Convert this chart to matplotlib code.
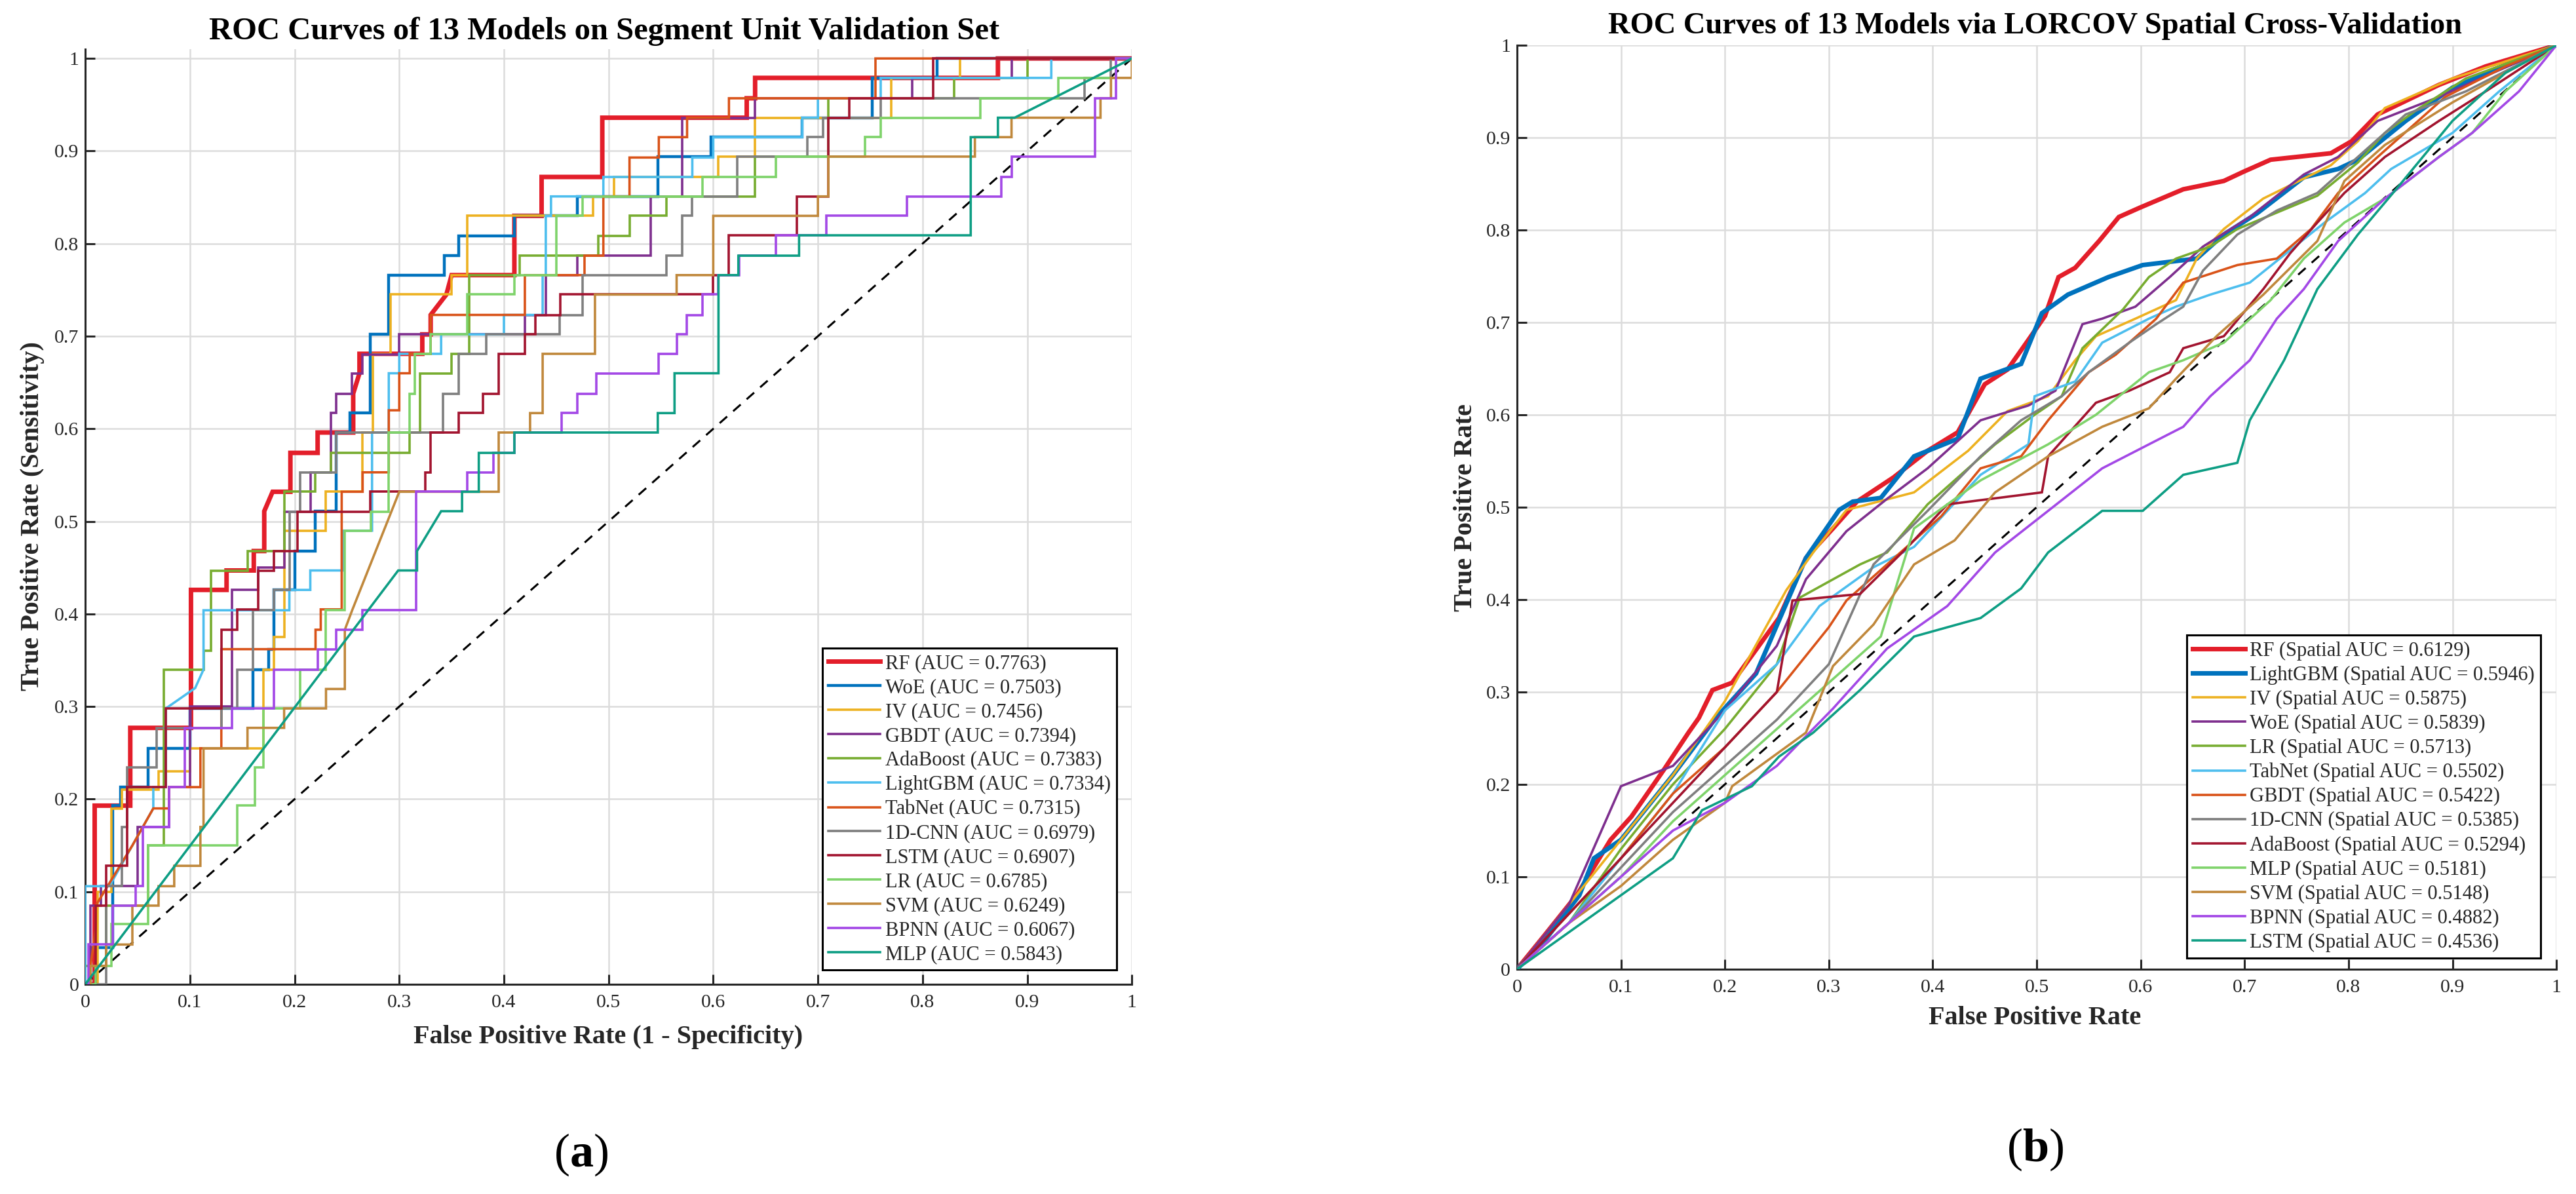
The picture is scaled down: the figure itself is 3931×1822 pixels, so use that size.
import matplotlib
matplotlib.use("Agg")
import matplotlib.pyplot as plt
from matplotlib.ticker import FixedLocator, FixedFormatter

plt.rcParams['font.family'] = ['Liberation Serif', 'DejaVu Serif']
plt.rcParams['mathtext.fontset'] = 'custom'
plt.rcParams['mathtext.rm'] = 'Liberation Serif'
plt.rcParams['mathtext.bf'] = 'Liberation Serif:bold'

# ---------------- data: panel (a) ----------------
A_MODELS = ['RF', 'WoE', 'IV', 'GBDT', 'AdaBoost', 'LightGBM', 'TabNet',
            '1D-CNN', 'LSTM', 'LR', 'SVM', 'BPNN', 'MLP']
A_AUC = [0.7763, 0.7503, 0.7456, 0.7394, 0.7383, 0.7334, 0.7315,
         0.6979, 0.6907, 0.6785, 0.6249, 0.6067, 0.5843]

A_RF = [(0,0),(0.009,0),(0.009,0.193),(0.043,0.193),(0.043,0.277),(0.101,0.277),(0.101,0.426),
        (0.135,0.426),(0.135,0.447),(0.161,0.447),(0.161,0.468),(0.171,0.468),(0.171,0.511),
        (0.179,0.532),(0.196,0.532),(0.196,0.574),(0.222,0.574),(0.222,0.596),(0.256,0.596),
        (0.256,0.638),(0.262,0.660),(0.262,0.681),(0.322,0.681),(0.322,0.702),(0.33,0.702),
        (0.33,0.723),(0.345,0.745),(0.35,0.766),(0.41,0.766),(0.41,0.830),(0.436,0.830),
        (0.436,0.872),(0.494,0.872),(0.494,0.936),(0.632,0.936),(0.632,0.957),(0.64,0.957),
        (0.64,0.979),(0.872,0.979),(0.872,1.0),(1,1)]
A_WOE = [(0,0),(0.005,0),(0.005,0.04),(0.026,0.04),(0.026,0.193),(0.034,0.193),(0.034,0.213),
         (0.06,0.213),(0.06,0.255),(0.1,0.255),(0.1,0.298),(0.16,0.298),(0.16,0.34),(0.175,0.34),
         (0.175,0.362),(0.18,0.362),(0.18,0.426),(0.2,0.426),(0.2,0.468),(0.22,0.468),(0.22,0.511),
         (0.24,0.511),(0.24,0.596),(0.253,0.596),(0.253,0.617),(0.272,0.617),(0.272,0.702),
         (0.29,0.702),(0.29,0.766),(0.343,0.766),(0.343,0.787),(0.357,0.787),(0.357,0.808),
         (0.41,0.808),(0.41,0.83),(0.47,0.83),(0.47,0.851),(0.547,0.851),(0.547,0.894),
         (0.598,0.894),(0.598,0.915),(0.685,0.915),(0.685,0.936),(0.752,0.936),(0.752,0.979),
         (0.814,0.979),(0.814,1.0),(1,1)]
A_IV = [(0,0),(0.012,0),(0.012,0.1),(0.025,0.1),(0.025,0.19),(0.035,0.19),(0.035,0.21),
        (0.07,0.21),(0.07,0.23),(0.1,0.23),(0.1,0.255),(0.17,0.255),(0.17,0.34),(0.18,0.34),
        (0.18,0.375),(0.19,0.375),(0.19,0.49),(0.23,0.49),(0.23,0.532),(0.265,0.532),
        (0.265,0.596),(0.275,0.596),(0.275,0.681),(0.292,0.681),(0.292,0.745),(0.35,0.745),
        (0.35,0.766),(0.365,0.766),(0.365,0.83),(0.485,0.83),(0.485,0.851),(0.505,0.851),
        (0.505,0.872),(0.605,0.872),(0.605,0.894),(0.64,0.894),(0.64,0.936),(0.77,0.936),
        (0.77,0.979),(0.836,0.979),(0.836,1.0),(1,1)]
A_GBDT = [(0,0),(0.005,0),(0.005,0.085),(0.015,0.085),(0.015,0.106),(0.05,0.106),(0.05,0.17),
          (0.08,0.17),(0.08,0.213),(0.1,0.213),(0.1,0.3),(0.14,0.3),(0.14,0.426),(0.165,0.426),
          (0.165,0.45),(0.19,0.45),(0.19,0.51),(0.215,0.51),(0.215,0.553),(0.235,0.553),
          (0.235,0.617),(0.24,0.617),(0.24,0.638),(0.255,0.638),(0.255,0.66),(0.265,0.66),
          (0.265,0.68),(0.3,0.68),(0.3,0.702),(0.42,0.702),(0.42,0.723),(0.44,0.723),
          (0.44,0.766),(0.47,0.766),(0.47,0.787),(0.54,0.787),(0.54,0.851),(0.57,0.851),
          (0.57,0.936),(0.64,0.936),(0.64,0.957),(0.79,0.957),(0.79,0.979),(0.885,0.979),
          (0.885,1.0),(1,1)]
A_ADA = [(0,0),(0,0.02),(0.02,0.02),(0.02,0.085),(0.06,0.085),(0.06,0.15),(0.075,0.15),
         (0.075,0.34),(0.113,0.34),(0.113,0.36),(0.12,0.36),(0.12,0.447),(0.155,0.447),
         (0.155,0.468),(0.19,0.468),(0.19,0.532),(0.22,0.532),(0.22,0.553),(0.235,0.553),
         (0.235,0.574),(0.31,0.574),(0.31,0.596),(0.32,0.596),(0.32,0.66),(0.35,0.66),
         (0.35,0.681),(0.367,0.681),(0.367,0.766),(0.415,0.766),(0.415,0.787),(0.49,0.787),
         (0.49,0.808),(0.52,0.808),(0.52,0.83),(0.555,0.83),(0.555,0.851),(0.64,0.851),
         (0.64,0.894),(0.71,0.894),(0.71,0.957),(0.83,0.957),(0.83,0.979),(0.9,0.979),
         (0.9,1.0),(1,1)]
A_LGBM = [(0,0),(0,0.106),(0.023,0.106),(0.065,0.19),(0.065,0.213),(0.077,0.213),(0.077,0.298),
          (0.105,0.32),(0.113,0.34),(0.113,0.404),(0.195,0.404),(0.195,0.426),(0.215,0.426),
          (0.215,0.447),(0.247,0.447),(0.247,0.49),(0.274,0.49),(0.274,0.596),(0.29,0.596),
          (0.29,0.66),(0.3,0.66),(0.3,0.681),(0.34,0.681),(0.34,0.702),(0.4,0.702),(0.4,0.723),
          (0.437,0.723),(0.437,0.766),(0.44,0.766),(0.44,0.83),(0.445,0.83),(0.445,0.851),
          (0.495,0.851),(0.495,0.872),(0.58,0.872),(0.58,0.893),(0.6,0.893),(0.6,0.915),
          (0.685,0.915),(0.685,0.936),(0.7,0.936),(0.7,0.957),(0.76,0.957),(0.76,0.979),
          (0.923,0.979),(0.923,1.0),(1,1)]
A_TAB = [(0,0),(0.005,0),(0.005,0.02),(0.01,0.06),(0.01,0.085),(0.045,0.15),(0.065,0.19),
         (0.08,0.19),(0.08,0.213),(0.11,0.213),(0.11,0.255),(0.13,0.255),(0.13,0.362),
         (0.22,0.362),(0.22,0.383),(0.225,0.383),(0.225,0.405),(0.245,0.405),(0.245,0.532),
         (0.265,0.532),(0.265,0.553),(0.29,0.553),(0.29,0.62),(0.3,0.62),(0.3,0.66),(0.31,0.66),
         (0.31,0.681),(0.33,0.681),(0.33,0.723),(0.42,0.723),(0.42,0.766),(0.477,0.766),
         (0.477,0.787),(0.495,0.787),(0.495,0.851),(0.52,0.851),(0.52,0.893),(0.548,0.893),
         (0.548,0.915),(0.575,0.915),(0.575,0.936),(0.615,0.936),(0.615,0.957),(0.755,0.957),
         (0.755,1.0),(1,1)]
A_CNN = [(0,0),(0.02,0),(0.02,0.106),(0.035,0.106),(0.035,0.17),(0.04,0.17),(0.04,0.234),
         (0.068,0.234),(0.068,0.277),(0.13,0.277),(0.13,0.298),(0.145,0.298),(0.145,0.34),
         (0.16,0.34),(0.16,0.404),(0.18,0.404),(0.18,0.426),(0.195,0.426),(0.195,0.51),
         (0.205,0.51),(0.205,0.553),(0.24,0.553),(0.24,0.596),(0.342,0.596),(0.342,0.638),
         (0.357,0.638),(0.357,0.681),(0.383,0.681),(0.383,0.702),(0.453,0.702),(0.453,0.723),
         (0.475,0.723),(0.475,0.766),(0.555,0.766),(0.555,0.787),(0.57,0.787),(0.57,0.83),
         (0.58,0.83),(0.58,0.851),(0.623,0.851),(0.623,0.894),(0.69,0.894),(0.69,0.915),
         (0.705,0.915),(0.705,0.936),(0.76,0.936),(0.76,0.957),(0.955,0.957),(0.955,0.979),
         (0.98,0.979),(0.98,1.0),(1,1)]
A_LSTM = [(0,0),(0.01,0),(0.01,0.085),(0.02,0.085),(0.02,0.128),(0.04,0.128),(0.04,0.213),
          (0.077,0.213),(0.077,0.298),(0.13,0.298),(0.13,0.383),(0.145,0.383),(0.145,0.405),
          (0.165,0.405),(0.165,0.447),(0.18,0.447),(0.18,0.468),(0.203,0.468),(0.203,0.51),
          (0.272,0.51),(0.272,0.532),(0.325,0.532),(0.325,0.553),(0.33,0.553),(0.33,0.596),
          (0.357,0.596),(0.357,0.617),(0.38,0.617),(0.38,0.638),(0.395,0.638),(0.395,0.681),
          (0.42,0.681),(0.42,0.702),(0.43,0.702),(0.43,0.723),(0.454,0.723),(0.454,0.745),
          (0.6,0.745),(0.6,0.766),(0.615,0.766),(0.615,0.809),(0.68,0.809),(0.68,0.851),
          (0.71,0.851),(0.71,0.936),(0.73,0.936),(0.73,0.957),(0.81,0.957),(0.81,1.0),(1,1)]
A_LR = [(0,0),(0.01,0),(0.01,0.02),(0.025,0.02),(0.025,0.065),(0.06,0.065),(0.06,0.15),
        (0.145,0.15),(0.145,0.193),(0.162,0.193),(0.162,0.234),(0.17,0.234),(0.17,0.298),
        (0.205,0.298),(0.205,0.34),(0.23,0.34),(0.23,0.404),(0.248,0.404),(0.248,0.49),
        (0.273,0.49),(0.273,0.51),(0.29,0.51),(0.29,0.596),(0.31,0.596),(0.31,0.638),
        (0.315,0.638),(0.315,0.681),(0.33,0.681),(0.33,0.702),(0.365,0.702),(0.365,0.745),
        (0.41,0.745),(0.41,0.766),(0.45,0.766),(0.45,0.83),(0.475,0.83),(0.475,0.851),
        (0.59,0.851),(0.59,0.872),(0.66,0.872),(0.66,0.894),(0.745,0.894),(0.745,0.915),
        (0.76,0.915),(0.76,0.936),(0.855,0.936),(0.855,0.957),(0.93,0.957),(0.93,0.979),
        (0.985,0.979),(0.985,1.0),(1,1)]
A_SVM = [(0,0),(0.005,0),(0.005,0.02),(0.02,0.02),(0.02,0.043),(0.045,0.043),(0.045,0.085),
         (0.07,0.085),(0.07,0.106),(0.085,0.106),(0.085,0.128),(0.11,0.128),(0.11,0.17),
         (0.113,0.17),(0.113,0.255),(0.155,0.255),(0.155,0.277),(0.19,0.277),(0.19,0.298),
         (0.23,0.298),(0.23,0.319),(0.248,0.319),(0.248,0.383),(0.255,0.404),(0.3,0.532),
         (0.395,0.532),(0.395,0.596),(0.425,0.596),(0.425,0.617),(0.437,0.617),(0.437,0.681),
         (0.487,0.681),(0.487,0.745),(0.565,0.745),(0.565,0.766),(0.6,0.766),(0.6,0.83),
         (0.7,0.83),(0.7,0.851),(0.71,0.851),(0.71,0.894),(0.85,0.894),(0.85,0.915),
         (0.885,0.915),(0.885,0.936),(0.97,0.936),(0.97,0.957),(0.98,0.957),(0.98,0.979),
         (1.0,0.979),(1.0,1.0)]
A_BPNN = [(0,0),(0.003,0),(0.003,0.043),(0.026,0.043),(0.026,0.085),(0.048,0.085),
          (0.048,0.106),(0.055,0.106),(0.055,0.17),(0.08,0.17),(0.08,0.213),(0.095,0.213),
          (0.095,0.277),(0.14,0.277),(0.14,0.298),(0.18,0.298),(0.18,0.34),(0.222,0.34),
          (0.222,0.362),(0.24,0.362),(0.24,0.383),(0.265,0.383),(0.265,0.404),(0.316,0.404),
          (0.316,0.532),(0.365,0.532),(0.365,0.553),(0.39,0.553),(0.39,0.574),(0.41,0.574),
          (0.41,0.596),(0.455,0.596),(0.455,0.617),(0.47,0.617),(0.47,0.638),(0.488,0.638),
          (0.488,0.66),(0.548,0.66),(0.548,0.681),(0.565,0.681),(0.565,0.702),(0.575,0.702),
          (0.575,0.723),(0.59,0.723),(0.59,0.745),(0.605,0.745),(0.605,0.766),(0.625,0.766),
          (0.625,0.787),(0.66,0.787),(0.66,0.809),(0.708,0.809),(0.708,0.83),(0.785,0.83),
          (0.785,0.851),(0.875,0.851),(0.875,0.872),(0.885,0.872),(0.885,0.894),(0.965,0.894),
          (0.965,0.957),(0.985,0.957),(0.985,1.0),(1,1)]
A_MLP = [(0,0),(0.299,0.447),(0.317,0.447),(0.317,0.468),(0.34,0.511),(0.36,0.511),
         (0.36,0.532),(0.376,0.532),(0.376,0.574),(0.41,0.574),(0.41,0.596),(0.547,0.596),
         (0.547,0.617),(0.563,0.617),(0.563,0.66),(0.605,0.66),(0.605,0.766),(0.624,0.766),
         (0.624,0.787),(0.682,0.787),(0.682,0.809),(0.846,0.809),(0.846,0.915),(0.872,0.915),
         (0.872,0.936),(0.888,0.936),(1,1)]
A_CURVES = [A_RF, A_WOE, A_IV, A_GBDT, A_ADA, A_LGBM, A_TAB, A_CNN, A_LSTM, A_LR, A_SVM,
            A_BPNN, A_MLP]

# ---------------- data: panel (b) ----------------
B_MODELS = ['RF', 'LightGBM', 'IV', 'WoE', 'LR', 'TabNet', 'GBDT', '1D-CNN', 'AdaBoost',
            'MLP', 'SVM', 'BPNN', 'LSTM']
B_AUC = [0.6129, 0.5946, 0.5875, 0.5839, 0.5713, 0.5502, 0.5422, 0.5385, 0.5294,
         0.5181, 0.5148, 0.4882, 0.4536]

B_RF = [(0,0),(0.026,0.036),(0.058,0.081),(0.09,0.14),(0.11,0.165),(0.142,0.217),(0.165,0.256),
        (0.175,0.272),(0.188,0.302),(0.207,0.31),(0.252,0.38),(0.278,0.445),(0.304,0.477),
        (0.327,0.506),(0.362,0.532),(0.395,0.561),(0.424,0.581),(0.45,0.633),(0.472,0.649),
        (0.492,0.681),(0.508,0.707),(0.521,0.749),(0.537,0.759),(0.56,0.788),(0.579,0.814),
        (0.599,0.824),(0.641,0.844),(0.68,0.853),(0.699,0.863),(0.725,0.876),(0.783,0.883),
        (0.803,0.896),(0.828,0.925),(0.887,0.957),(0.932,0.977),(1,1)]
B_LGBM = [(0,0),(0.026,0.03),(0.06,0.08),(0.074,0.12),(0.1,0.14),(0.15,0.21),(0.19,0.27),
          (0.23,0.32),(0.278,0.445),(0.31,0.497),(0.323,0.506),(0.35,0.51),(0.382,0.555),
          (0.424,0.574),(0.446,0.639),(0.485,0.655),(0.505,0.71),(0.53,0.73),(0.569,0.749),
          (0.602,0.762),(0.654,0.769),(0.68,0.795),(0.712,0.818),(0.757,0.857),(0.79,0.866),
          (0.809,0.876),(0.855,0.918),(0.9,0.954),(0.95,0.977),(1,1)]
B_IV = [(0,0),(0.05,0.07),(0.1,0.14),(0.15,0.21),(0.2,0.29),(0.259,0.41),(0.285,0.451),
        (0.317,0.497),(0.382,0.516),(0.434,0.561),(0.472,0.604),(0.511,0.62),(0.537,0.659),
        (0.557,0.685),(0.595,0.704),(0.634,0.724),(0.654,0.769),(0.68,0.801),(0.718,0.834),
        (0.783,0.87),(0.809,0.896),(0.835,0.932),(0.9,0.964),(1,1)]
B_WOE = [(0,0),(0.05,0.07),(0.1,0.198),(0.15,0.22),(0.2,0.28),(0.25,0.35),(0.278,0.422),
         (0.317,0.474),(0.356,0.509),(0.395,0.542),(0.446,0.594),(0.492,0.61),(0.518,0.626),
         (0.544,0.698),(0.563,0.704),(0.595,0.717),(0.628,0.749),(0.66,0.782),(0.705,0.814),
         (0.757,0.86),(0.79,0.879),(0.828,0.918),(0.887,0.944),(0.939,0.97),(1,1)]
B_LR = [(0,0),(0.05,0.05),(0.1,0.13),(0.15,0.2),(0.2,0.26),(0.25,0.33),(0.272,0.402),
        (0.33,0.438),(0.356,0.451),(0.395,0.503),(0.434,0.542),(0.46,0.568),(0.498,0.6),
        (0.524,0.62),(0.544,0.672),(0.583,0.714),(0.608,0.749),(0.634,0.769),(0.667,0.782),
        (0.693,0.801),(0.77,0.837),(0.809,0.873),(0.835,0.905),(0.867,0.931),(0.913,0.964),(1,1)]
B_TAB = [(0,0),(0.05,0.05),(0.1,0.12),(0.15,0.19),(0.2,0.28),(0.25,0.33),(0.291,0.393),
         (0.343,0.435),(0.382,0.457),(0.446,0.535),(0.492,0.568),(0.498,0.62),(0.537,0.636),
         (0.563,0.678),(0.608,0.704),(0.634,0.717),(0.667,0.73),(0.705,0.743),(0.777,0.808),
         (0.816,0.84),(0.841,0.866),(0.9,0.905),(0.945,0.95),(1,1)]
B_GBDT = [(0,0),(0.05,0.06),(0.1,0.12),(0.15,0.19),(0.2,0.24),(0.25,0.3),(0.3,0.37),
          (0.317,0.399),(0.356,0.438),(0.408,0.49),(0.446,0.542),(0.485,0.555),(0.511,0.594),
          (0.55,0.646),(0.576,0.665),(0.615,0.704),(0.641,0.743),(0.693,0.762),(0.731,0.769),
          (0.764,0.801),(0.79,0.84),(0.828,0.879),(0.893,0.944),(0.951,0.977),(1,1)]
B_CNN = [(0,0),(0.05,0.05),(0.1,0.11),(0.15,0.17),(0.2,0.22),(0.25,0.27),(0.3,0.33),
         (0.343,0.438),(0.395,0.496),(0.446,0.555),(0.485,0.594),(0.524,0.62),(0.55,0.646),
         (0.589,0.678),(0.615,0.698),(0.641,0.717),(0.66,0.756),(0.693,0.795),(0.731,0.821),
         (0.77,0.84),(0.809,0.879),(0.855,0.925),(0.913,0.95),(1,1)]
B_ADA = [(0,0),(0.05,0.06),(0.1,0.12),(0.15,0.18),(0.2,0.24),(0.25,0.3),(0.265,0.399),
         (0.33,0.406),(0.376,0.457),(0.414,0.503),(0.505,0.516),(0.511,0.555),(0.557,0.613),
         (0.589,0.626),(0.628,0.646),(0.641,0.672),(0.68,0.685),(0.718,0.736),(0.744,0.775),
         (0.77,0.808),(0.796,0.84),(0.835,0.879),(0.887,0.918),(0.932,0.95),(1,1)]
B_MLP = [(0,0),(0.05,0.05),(0.1,0.1),(0.15,0.16),(0.2,0.21),(0.25,0.26),(0.3,0.31),
         (0.35,0.36),(0.382,0.477),(0.446,0.529),(0.511,0.568),(0.557,0.6),(0.608,0.646),
         (0.641,0.659),(0.68,0.678),(0.725,0.724),(0.757,0.769),(0.796,0.808),(0.835,0.834),
         (0.887,0.879),(0.919,0.905),(0.951,0.95),(1,1)]
B_SVM = [(0,0),(0.05,0.05),(0.1,0.09),(0.15,0.14),(0.2,0.18),(0.207,0.198),(0.278,0.256),
         (0.304,0.328),(0.343,0.373),(0.382,0.438),(0.421,0.464),(0.46,0.516),(0.511,0.555),
         (0.563,0.587),(0.608,0.607),(0.634,0.639),(0.673,0.685),(0.718,0.73),(0.77,0.788),
         (0.796,0.853),(0.835,0.892),(0.9,0.938),(0.951,0.97),(1,1)]
B_BPNN = [(0,0),(0.05,0.05),(0.1,0.1),(0.15,0.15),(0.2,0.18),(0.25,0.22),(0.304,0.282),
          (0.356,0.347),(0.414,0.393),(0.46,0.451),(0.511,0.496),(0.563,0.542),(0.608,0.568),
          (0.641,0.587),(0.667,0.62),(0.705,0.659),(0.731,0.704),(0.757,0.736),(0.79,0.788),
          (0.835,0.834),(0.887,0.879),(0.919,0.905),(0.964,0.95),(1,1)]
B_LSTM = [(0,0),(0.05,0.04),(0.1,0.08),(0.15,0.12),(0.178,0.172),(0.226,0.198),(0.252,0.23),
          (0.285,0.256),(0.33,0.302),(0.382,0.36),(0.446,0.38),(0.485,0.412),(0.511,0.451),
          (0.563,0.496),(0.602,0.496),(0.641,0.535),(0.693,0.548),(0.705,0.594),(0.738,0.659),
          (0.77,0.736),(0.809,0.795),(0.848,0.847),(0.9,0.918),(0.951,0.97),(1,1)]
B_CURVES = [B_RF, B_LGBM, B_IV, B_WOE, B_LR, B_TAB, B_GBDT, B_CNN, B_ADA, B_MLP, B_SVM,
            B_BPNN, B_LSTM]

TICKS = [0, 0.1, 0.2, 0.3, 0.4, 0.5, 0.6, 0.7, 0.8, 0.9, 1]
TICK_LABELS = ['0', '0.1', '0.2', '0.3', '0.4', '0.5', '0.6', '0.7', '0.8', '0.9', '1']

# ---------------- styles ----------------
COLORS = ['#E31E2A', '#0072BD', '#EDB120', '#7E2F8E', '#77AC30', '#4DBEEE', '#D95319',
          '#7F7F7F', '#A2142F', '#7ED36A', '#C0883C', '#A348E6', '#0E9E84']
A_WIDTHS = [5.0, 3.2] + [2.6] * 11
B_WIDTHS = [5.0, 5.0] + [2.6] * 11

fig = plt.figure(figsize=(39.31, 18.22), dpi=100)
ax_a = fig.add_axes([0.0331, 0.1756, 0.4063, 0.7832])
ax_b = fig.add_axes([0.5889, 0.1883, 0.4035, 0.7739])


def style_axes(ax, ytop):
    ax.set_xlim(0, 1)
    ax.set_ylim(0, ytop)
    ax.xaxis.set_major_locator(FixedLocator(TICKS))
    ax.xaxis.set_major_formatter(FixedFormatter(TICK_LABELS))
    ax.yaxis.set_major_locator(FixedLocator(TICKS))
    ax.yaxis.set_major_formatter(FixedFormatter(TICK_LABELS))
    ax.grid(True, color='#DCDCDC', linewidth=1.8, zorder=0)
    ax.set_axisbelow(True)
    for s in ['top', 'right']:
        ax.spines[s].set_visible(False)
    for s in ['left', 'bottom']:
        ax.spines[s].set_color('#262626')
        ax.spines[s].set_linewidth(2.2)
    ax.tick_params(direction='in', length=11, width=2.2, colors='#262626',
                   labelsize=21.5, labelcolor='#262626')
    ax.tick_params(axis='x', pad=11)
    ax.tick_params(axis='y', pad=7)


def draw_panel(ax, curves, models, aucs, widths, fmt):
    ax.plot([0, 1], [0, 1], linestyle=(0, (5, 4)), color='black', linewidth=2.2, zorder=2)
    for pts, name, auc, c, lw in zip(curves, models, aucs, COLORS, widths):
        xs = [p[0] for p in pts]
        ys = [p[1] for p in pts]
        ax.plot(xs, ys, color=c, linewidth=lw, label=fmt.format(name, auc), zorder=3,
                solid_joinstyle='miter')


style_axes(ax_a, 1.01)
style_axes(ax_b, 1.0)
draw_panel(ax_a, A_CURVES, A_MODELS, A_AUC, A_WIDTHS, '{} (AUC = {:.4f})')
draw_panel(ax_b, B_CURVES, B_MODELS, B_AUC, B_WIDTHS, '{} (Spatial AUC = {:.4f})')

for ax, anchor in [(ax_a, (0.9856, 0.0154)), (ax_b, (0.9849, 0.012))]:
    leg = ax.legend(loc='lower right', bbox_to_anchor=anchor, fontsize=22,
                    frameon=True, fancybox=False, edgecolor='black', framealpha=1,
                    labelspacing=0.26, handlelength=2.6, handletextpad=0.25,
                    borderpad=0.3, borderaxespad=0)
    leg.get_frame().set_linewidth(2.2)
    for t in leg.get_texts():
        t.set_color('#262626')

fig.text(0.2345, 0.974, 'ROC Curves of 13 Models on Segment Unit Validation Set',
         ha='center', va='center', fontsize=35, fontweight='bold')
fig.text(0.790, 0.978, 'ROC Curves of 13 Models via LORCOV Spatial Cross-Validation',
         ha='center', va='center', fontsize=33.5, fontweight='bold')

fig.text(0.236, 0.1317, 'False Positive Rate (1 - Specificity)', ha='center', va='center',
         fontsize=29, fontweight='bold', color='#262626')
fig.text(0.0127, 0.5675, 'True Positive Rate (Sensitivity)', ha='center', va='center',
         rotation=90, fontsize=29, fontweight='bold', color='#262626')
fig.text(0.790, 0.1476, 'False Positive Rate', ha='center', va='center',
         fontsize=29, fontweight='bold', color='#262626')
fig.text(0.569, 0.575, 'True Positive Rate', ha='center', va='center',
         rotation=90, fontsize=29, fontweight='bold', color='#262626')

fig.text(0.2256, 0.033, r'($\mathbf{a}$)', ha='center', va='center', fontsize=52)
fig.text(0.790, 0.037, r'($\mathbf{b}$)', ha='center', va='center', fontsize=52)

fig.savefig('out.png', dpi=100)
